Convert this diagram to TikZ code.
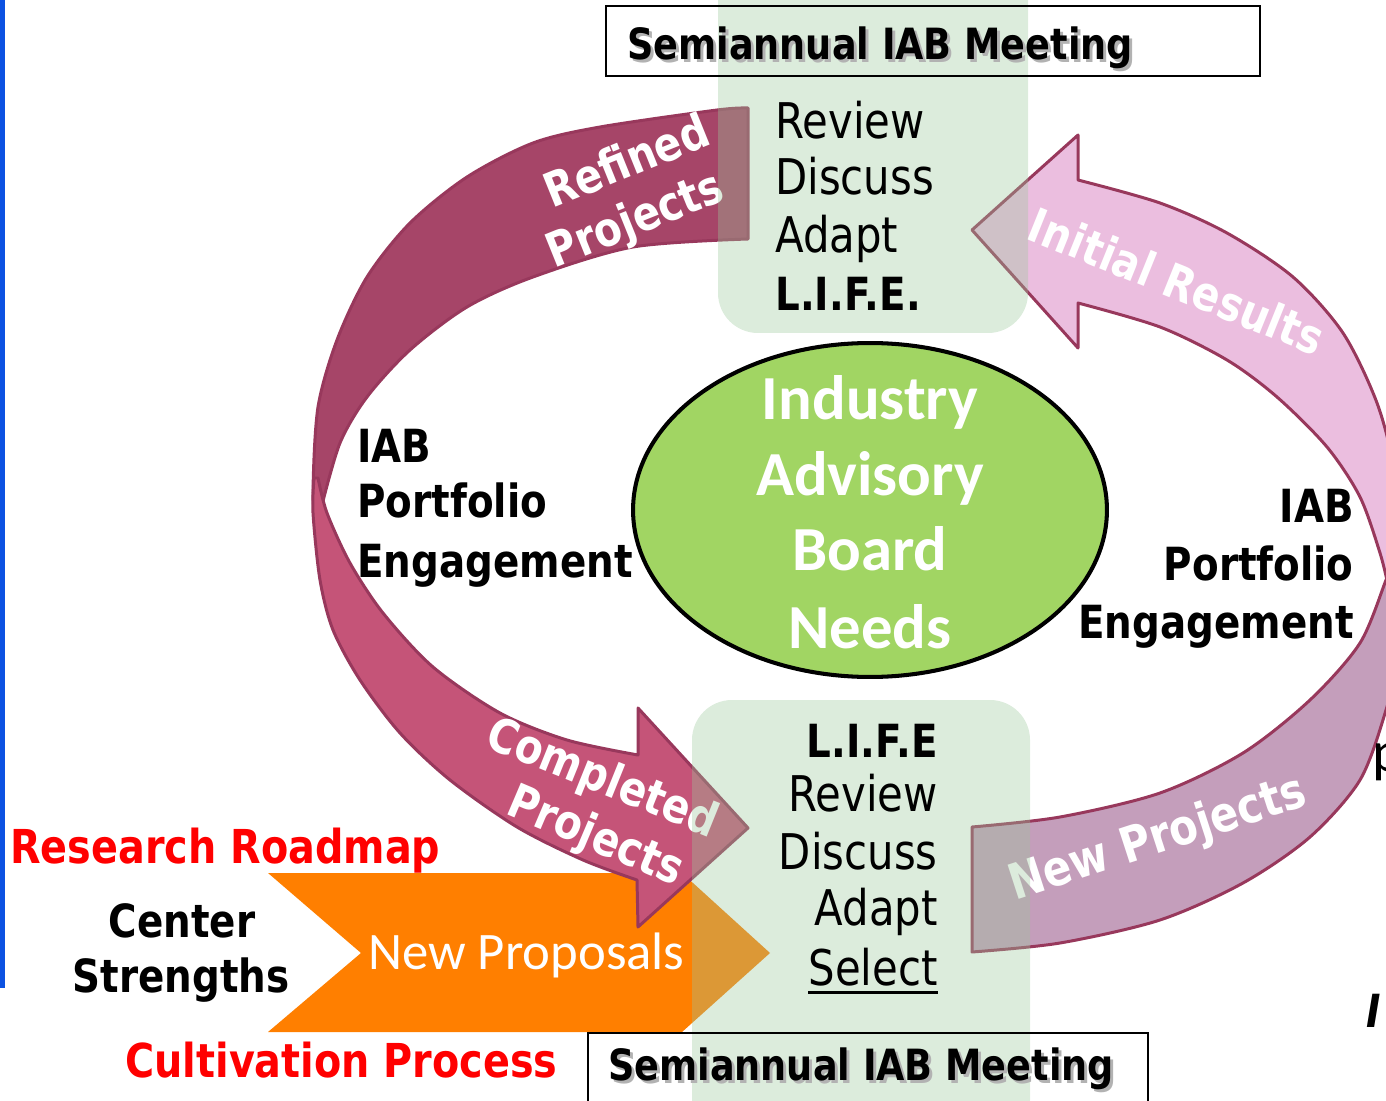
\documentclass[tikz,border=0pt]{standalone}
\usepackage{fontspec}
\usetikzlibrary{shapes.geometric}
\newfontfamily\comicfont[FakeStretch=0.85]{DejaVu Sans}
\newfontfamily\calfont{Carlito}
\definecolor{roseDark}{RGB}{166,69,104}
\definecolor{roseMid}{RGB}{197,84,120}
\definecolor{roseLight}{RGB}{235,190,223}
\definecolor{mauve}{RGB}{196,158,187}
\definecolor{roseLine}{RGB}{152,56,92}
\definecolor{boardGreen}{RGB}{161,213,99}
\definecolor{lifeGreen}{RGB}{155,200,155}
\definecolor{propOrange}{RGB}{255,127,0}
\definecolor{edgeBlue}{RGB}{12,82,226}
\begin{document}
\begin{tikzpicture}[x=0.02cm, y=-0.02cm,
  lbl/.style={font=\comicfont\fontsize{28}{30}\selectfont, inner sep=0pt},
  bold lbl/.style={font=\comicfont\bfseries\fontsize{26}{30}\selectfont, inner sep=0pt},
  red lbl/.style={bold lbl, text=red},
  meet lbl/.style={font=\comicfont\bfseries\fontsize{24.5}{28}\selectfont, inner sep=0pt, anchor=base west},
  arrow lbl/.style={font=\comicfont\bfseries\fontsize{27}{30}\selectfont, text=white, inner sep=0pt},
  board lbl/.style={font=\calfont\bfseries\fontsize{35.7}{40}\selectfont, text=white, inner sep=0pt, anchor=base},
  band/.style={draw=roseLine, line width=1.7pt, line join=round},
  life box/.style={fill=lifeGreen, opacity=0.35, rounded corners=0.8cm}]
\useasboundingbox (0,0) rectangle (1386,1101);
\clip (0,0) rectangle (1386,1101);

\fill[edgeBlue] (0,0) rectangle (5,988);

\fill[propOrange] (268,873) -- (682,873) -- (770,953) -- (682,1032) -- (268,1032) -- (361,953) -- cycle;

\filldraw[band, fill=roseDark] plot[smooth] coordinates {(748,108) (717,110) (600,127) (533,143) (467,177) (410,223) (367,277) (337,340) (318,407) (313,490) (316,525)} -- plot[smooth] coordinates {(322,505) (340,443) (367,397) (410,350) (467,307) (533,277) (633,247) (748,239)} -- cycle;
\filldraw[band, fill=roseMid] plot[smooth] coordinates {(314,478) (313,513) (320,580) (333,630) (360,680) (400,733) (450,780) (517,827) (583,860) (637,880)} -- (638,927) -- (748,828) -- (638,708) -- plot[smooth] coordinates {(638,755) (567,740) (500,713) (433,667) (383,613) (350,563) (327,513) (318,478)} -- cycle;
\filldraw[band, fill=roseLight] (972,230) -- (1078,135) -- plot[smooth] coordinates {(1078,180) (1160,203) (1227,233) (1293,277) (1343,333) (1377,403) (1394,470) (1402,560)} -- plot[smooth] coordinates {(1388,585) (1380,553) (1360,497) (1327,447) (1277,397) (1227,360) (1160,327) (1078,303)} -- (1078,348) -- cycle;
\filldraw[band, fill=mauve] plot[smooth] coordinates {(972,952) (1060,943) (1160,920) (1243,883) (1310,837) (1360,780) (1386,710) (1400,650) (1404,580)} -- plot[smooth] coordinates {(1392,565) (1386,580) (1360,643) (1310,700) (1243,753) (1160,793) (1060,817) (972,827)} -- cycle;

\node[arrow lbl, rotate=22] (refined) at (626,160) {Refined};
\node[arrow lbl, rotate=22] (refined-2) at (636,222) {Projects};
\node[arrow lbl, rotate=-22] (completed) at (602,780) {Completed};
\node[arrow lbl, rotate=-23] (completed-2) at (595,838) {Projects};
\node[arrow lbl, rotate=-22] (initial) at (1177,281) {Initial Results};
\node[arrow lbl, rotate=18, font=\comicfont\bfseries\fontsize{28}{30}\selectfont] (new-proj) at (1158,840) {New Projects};
\node[font=\calfont\fontsize{30}{34}\selectfont, text=white, inner sep=0pt, anchor=base west] (proposals) at (368,969) {New Proposals};

\fill[life box] (718,-40) rectangle (1028,333);
\fill[life box] (692,700) rectangle (1030,1140);

\node[ellipse, draw, line width=2.3pt, fill=boardGreen, minimum width=9.48cm, minimum height=6.68cm] (board) at (870,510) {};
\node[board lbl] (board-1) at (870,419) {Industry};
\node[board lbl] (board-2) at (870,495) {Advisory};
\node[board lbl] (board-3) at (870,570) {Board};
\node[board lbl] (board-4) at (870,648) {Needs};

\draw[line width=1.2pt] (606,6) rectangle (1260,76);
\node[meet lbl, text=gray!60] (meet-top-sh) at (630,63) {Semiannual IAB Meeting};
\node[meet lbl] (meet-top) at (627,60) {Semiannual IAB Meeting};
\draw[line width=1.2pt] (588,1033) rectangle (1148,1120);
\node[meet lbl, text=gray!60] (meet-bot-sh) at (611,1083) {Semiannual IAB Meeting};
\node[meet lbl] (meet-bot) at (608,1080) {Semiannual IAB Meeting};

\node[lbl, anchor=base west] (rev-t) at (775,139) {Review};
\node[lbl, anchor=base west] (dis-t) at (775,195) {Discuss};
\node[lbl, anchor=base west] (ada-t) at (775,253) {Adapt};
\node[bold lbl, anchor=base west] (life-t) at (775,311) {L.I.F.E.};

\node[bold lbl, anchor=base east] (life-b) at (938,757) {L.I.F.E};
\node[lbl, anchor=base east] (rev-b) at (938,811) {Review};
\node[lbl, anchor=base east] (dis-b) at (938,869) {Discuss};
\node[lbl, anchor=base east] (ada-b) at (938,925) {Adapt};
\node[lbl, anchor=base east] (sel-b) at (938,985) {Select};
\draw[line width=1.7pt] ([yshift=-4pt]sel-b.base west) -- ([yshift=-4pt]sel-b.base east);

\node[bold lbl, anchor=base west] (iab-l) at (357,462) {IAB};
\node[bold lbl, anchor=base west] (port-l) at (357,517) {Portfolio};
\node[bold lbl, anchor=base west] (eng-l) at (357,577) {Engagement};
\node[bold lbl, anchor=base east] (iab-r) at (1354,522) {IAB};
\node[bold lbl, anchor=base east] (port-r) at (1354,580) {Portfolio};
\node[bold lbl, anchor=base east] (eng-r) at (1354,638) {Engagement};

\node[red lbl, anchor=base west, font=\comicfont\bfseries\fontsize{26.6}{30}\selectfont] (roadmap) at (10,863) {Research Roadmap};
\node[bold lbl, anchor=base] (center) at (182,937) {Center};
\node[bold lbl, anchor=base] (strengths) at (181,992) {Strengths};
\node[red lbl, anchor=base west, font=\comicfont\bfseries\fontsize{26.6}{30}\selectfont] (cultivation) at (125,1077) {Cultivation Process};

\node[font=\calfont\fontsize{33}{36}\selectfont, inner sep=0pt, anchor=base west] (frag-p) at (1372,771) {p};
\node[font=\comicfont\bfseries\itshape\fontsize{26}{30}\selectfont, inner sep=0pt, anchor=base west] (frag-i) at (1366,1027) {I};
\end{tikzpicture}
\end{document}
